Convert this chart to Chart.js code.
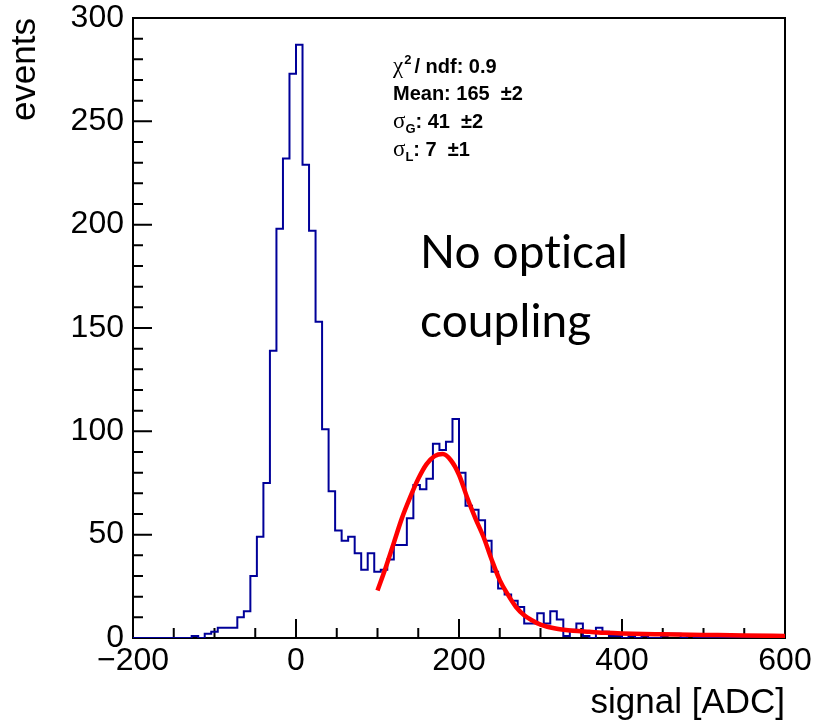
<!DOCTYPE html>
<html>
<head>
<meta charset="utf-8">
<script src="https://cdn.jsdelivr.net/npm/chart.js@4.4.1/dist/chart.umd.min.js"></script>
<style>
  html, body { margin: 0; padding: 0; background: #fff; }
  #wrap { width: 819px; height: 728px; }
</style>
</head>
<body>
<div id="wrap"><canvas id="hist" width="819" height="728"></canvas></div>
<script>
// histogram: 100 bins of width 8 starting at -200
var binLow = -200;
var binWidth = 8;
var counts = [
  0, 0, 0, 0, 0, 0, 0, 0, 0, 1,
  0, 2, 3, 5, 5, 5, 10, 13, 30, 49,
  75, 139, 198, 232, 273, 287, 229, 197, 153, 101,
  71, 52, 47, 49, 41, 33, 41, 32, 33, 38,
  45, 45, 58, 74, 72, 77, 94, 91, 95, 106,
  80, 64, 62, 57, 47, 32, 24, 21, 18, 15,
  7, 7, 12, 7, 13, 9, 1, 4, 7, 1,
  0, 5, 3, 1, 1, 0, 1, 0, 1, 0,
  0, 1, 2, 2, 0, 1, 0, 0, 0, 0,
  0, 0, 0, 0, 0, 0, 0, 0, 0, 0
];

// fitted curve
var fitX = [100, 110, 120, 130, 140, 150, 160, 170, 180, 190, 200, 210, 220, 230, 240,
            250, 260, 270, 280, 290, 300, 320, 340, 360, 380, 400, 450, 500, 550, 600];
var fitY = [23, 34, 46, 58, 68, 77, 84, 88, 89, 86, 79, 68, 58, 49, 38,
            28, 21, 15, 11, 8.5, 6.5, 4.5, 3.5, 3, 2.5, 2.2, 1.8, 1.5, 1.2, 1.0];

var xTicks = [-200, 0, 200, 400, 600];
var yTicks = [0, 50, 100, 150, 200, 250, 300];
var xMinorStep = 50;
var yMinorStep = 10;

var histColor = '#000099';
var fitColor = '#ff0000';

// step outline points (left edge of every bin + closing right edge)
var histPoints = [];
counts.forEach(function (c, i) {
  histPoints.push({x: binLow + i * binWidth, y: c});
});
histPoints.push({x: binLow + counts.length * binWidth, y: counts[counts.length - 1]});

var fitPoints = fitX.map(function (x, i) {
  return {x: x, y: fitY[i]};
});

// ROOT style frame with inward ticks
var frameAndTicks = {
  id: 'frameAndTicks',
  beforeDatasetsDraw: function (chart) {
    var ctx = chart.ctx;
    var area = chart.chartArea;
    var xs = chart.scales.x;
    var ys = chart.scales.y;
    ctx.save();
    ctx.strokeStyle = '#000';
    ctx.lineWidth = 2;
    ctx.strokeRect(area.left, area.top, area.right - area.left, area.bottom - area.top);
    ctx.beginPath();
    var v, p, len;
    for (v = xs.min; v <= xs.max; v += xMinorStep) {
      p = xs.getPixelForValue(v);
      len = xTicks.indexOf(v) >= 0 ? 19 : 10;
      ctx.moveTo(p, area.bottom);
      ctx.lineTo(p, area.bottom - len);
    }
    for (v = ys.min; v <= ys.max; v += yMinorStep) {
      p = ys.getPixelForValue(v);
      len = yTicks.indexOf(v) >= 0 ? 19 : 10;
      ctx.moveTo(area.left, p);
      ctx.lineTo(area.left + len, p);
    }
    ctx.stroke();
    ctx.restore();
  }
};

// fit results and the big label
var annotations = {
  id: 'annotations',
  afterDraw: function (chart) {
    var ctx = chart.ctx;
    var x0 = 393;
    var bold = 'bold 20px "Liberation Sans", Arial, sans-serif';
    var small = 'bold 13px "Liberation Sans", Arial, sans-serif';
    var greek = '23px "Liberation Serif", serif';
    ctx.save();
    ctx.fillStyle = '#000';
    ctx.textBaseline = 'alphabetic';
    ctx.textAlign = 'left';

    var x = x0;
    ctx.font = greek;
    ctx.fillText('\u03c7', x, 73);
    x += ctx.measureText('\u03c7').width + 1;
    ctx.font = small;
    ctx.fillText('2', x, 64);
    x += ctx.measureText('2').width + 3;
    ctx.font = bold;
    ctx.fillText('/ ndf: 0.9', x, 73);

    ctx.fillText('Mean: 165  \u00b12', x0, 100);

    var rows = [['G', ': 41  \u00b12', 128], ['L', ': 7  \u00b11', 156]];
    rows.forEach(function (r) {
      var xx = x0;
      ctx.font = greek;
      ctx.fillText('\u03c3', xx, r[2]);
      xx += ctx.measureText('\u03c3').width;
      ctx.font = small;
      ctx.fillText(r[0], xx, r[2] + 5);
      xx += ctx.measureText(r[0]).width;
      ctx.font = bold;
      ctx.fillText(r[1], xx, r[2]);
    });

    ctx.font = '46px Lato, "Noto Sans", sans-serif';
    ctx.letterSpacing = '0.1px';
    ctx.fillText('No optical', 420, 268);
    ctx.fillText('coupling', 420, 337);
    ctx.restore();
  }
};

var tickFont = {family: '"Liberation Sans", Arial, sans-serif', size: 32};
// small line height so the top label does not push the frame down
var yTickFont = {family: '"Liberation Sans", Arial, sans-serif', size: 32, lineHeight: 0.5};
var titleFont = {family: '"Liberation Sans", Arial, sans-serif', size: 35};

new Chart(document.getElementById('hist'), {
  type: 'line',
  data: {
    datasets: [{
      label: 'fit',
      data: fitPoints,
      borderColor: fitColor,
      borderWidth: 4.5,
      pointRadius: 0,
      cubicInterpolationMode: 'monotone',
      fill: false,
      order: 0
    }, {
      label: 'signal',
      data: histPoints,
      borderColor: histColor,
      borderWidth: 2,
      pointRadius: 0,
      stepped: 'before',
      fill: false,
      order: 1
    }]
  },
  options: {
    responsive: false,
    animation: false,
    devicePixelRatio: 1,
    layout: {
      padding: {left: 0, top: 18, right: 34, bottom: 0}
    },
    plugins: {
      legend: {display: false},
      tooltip: {enabled: false}
    },
    scales: {
      x: {
        type: 'linear',
        min: -200,
        max: 600,
        afterBuildTicks: function (scale) {
          scale.ticks = xTicks.map(function (v) { return {value: v}; });
        },
        afterFit: function (scale) { scale.height = 90; },
        grid: {display: false, drawTicks: false},
        border: {display: false},
        ticks: {
          color: '#000',
          font: tickFont,
          padding: 4,
          maxRotation: 0,
          autoSkip: false,
          callback: function (v) { return String(v).replace('-', '\u2212'); }
        },
        title: {
          display: true,
          text: 'signal [ADC]',
          align: 'end',
          color: '#000',
          font: titleFont,
          padding: {top: 4, bottom: 4}
        }
      },
      y: {
        type: 'linear',
        min: 0,
        max: 300,
        afterBuildTicks: function (scale) {
          scale.ticks = yTicks.map(function (v) { return {value: v}; });
        },
        afterFit: function (scale) { scale.width = 133; },
        grid: {display: false, drawTicks: false},
        border: {display: false},
        ticks: {
          color: '#000',
          font: yTickFont,
          padding: 9,
          autoSkip: false
        },
        title: {
          display: true,
          text: 'events',
          align: 'end',
          color: '#000',
          font: titleFont,
          padding: {top: 4, bottom: 4}
        }
      }
    }
  },
  plugins: [frameAndTicks, annotations]
});
</script>
</body>
</html>
